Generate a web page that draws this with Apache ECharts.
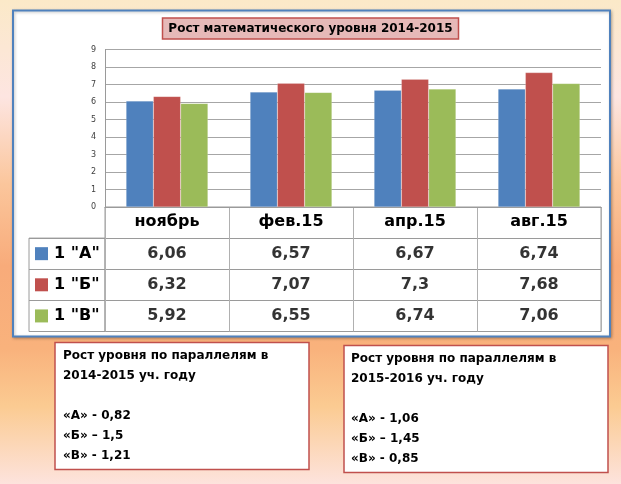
<!DOCTYPE html>
<html><head><meta charset="utf-8">
<script src="https://cdn.jsdelivr.net/npm/echarts@6/dist/echarts.min.js"></script>
<style>html,body{margin:0;padding:0;}#c{width:621px;height:484px;}</style>
</head><body><div id="c"></div>
<script>
const titleText = 'Рост математического уровня 2014-2015';
const categories = ['ноябрь', 'фев.15', 'апр.15', 'авг.15'];
const seriesNames = ['1 "А"', '1 "Б"', '1 "В"'];
const valuesA = [6.06, 6.57, 6.67, 6.74];
const valuesB = [6.32, 7.07, 7.3, 7.68];
const valuesV = [5.92, 6.55, 6.74, 7.06];
const yMin = 0, yMax = 9, yStep = 1;
const box1Lines = ['Рост уровня по параллелям в', '2014-2015 уч. году', '', '«А» - 0,82', '«Б» – 1,5', '«В» - 1,21'];
const box2Lines = ['Рост уровня по параллелям в', '2015-2016 уч. году', '', '«А» - 1,06', '«Б» – 1,45', '«В» - 0,85'];

const colors = ['#4f81bd', '#c0504d', '#9bbb59'];
const allValues = [valuesA, valuesB, valuesV];
const FONT = 'DejaVu Sans';

const tableData = [];
allValues.forEach((vals, s) => vals.forEach((v, i) => tableData.push([i, s + 1, v])));

const rich = { t: { fontFamily: FONT, fontWeight: 'bold', fontSize: 16, color: '#000', padding: [0, 0, 0, 6] } };
colors.forEach((c, i) => { rich['s' + i] = { width: 13, height: 13, backgroundColor: c }; });

const chart = echarts.init(document.getElementById('c'), null, { renderer: 'canvas' });
chart.setOption({
  animation: false,
  title: {
    text: titleText, left: 'center', top: 18,
    backgroundColor: '#e6b9b8', borderColor: '#c0504d', borderWidth: 1.5,
    padding: [5, 6, 4, 6],
    textStyle: { fontFamily: FONT, fontWeight: 'bold', fontSize: 12, color: '#000' }
  },
  graphic: [
    { type: 'rect', z: -20, shape: { x: 0, y: 0, width: 621, height: 484 },
      style: { fill: new echarts.graphic.LinearGradient(0, 0, 0, 1, [
        { offset: 0, color: '#fbe9c8' }, { offset: 0.2, color: '#fde5e1' },
        { offset: 0.38, color: '#fbc69c' }, { offset: 0.55, color: '#f8ab7a' },
        { offset: 0.72, color: '#f9b27c' }, { offset: 0.84, color: '#fbcb92' },
        { offset: 1, color: '#fde3dd' }]) } },
    { type: 'rect', z: -10, shape: { x: 13, y: 10.5, width: 597, height: 326 },
      style: { fill: '#fff', stroke: '#4f81bd', lineWidth: 2, shadowBlur: 3, shadowColor: 'rgba(0,0,0,0.25)', shadowOffsetX: 1, shadowOffsetY: 1 } },
    { type: 'rect', shape: { x: 55, y: 342.5, width: 254, height: 127 },
      style: { fill: '#fff', stroke: '#c0504d', lineWidth: 1.5 } },
    { type: 'text', x: 63, y: 346, style: { text: box1Lines.join('\n'), fontFamily: FONT, fontWeight: 'bold', fontSize: 12, lineHeight: 20, fill: '#000', verticalAlign: 'top' } },
    { type: 'rect', shape: { x: 344, y: 345.5, width: 264, height: 127 },
      style: { fill: '#fff', stroke: '#c0504d', lineWidth: 1.5 } },
    { type: 'text', x: 351, y: 349, style: { text: box2Lines.join('\n'), fontFamily: FONT, fontWeight: 'bold', fontSize: 12, lineHeight: 20, fill: '#000', verticalAlign: 'top' } }
  ],
  grid: [
    { left: 105, top: 49.5, width: 496, height: 157.5 },
    { left: 105, top: 207, width: 496, height: 124.5, show: true, borderColor: '#9a9a9a', borderWidth: 1, backgroundColor: 'transparent' },
    { left: 29, top: 238.1, width: 76, height: 93.4, show: true, borderColor: '#9a9a9a', borderWidth: 1, backgroundColor: 'transparent' }
  ],
  xAxis: [
    { gridIndex: 0, type: 'category', data: categories,
      axisLine: { lineStyle: { color: '#9a9a9a' } }, axisTick: { show: false },
      axisLabel: { margin: 7, fontFamily: FONT, fontWeight: 'bold', fontSize: 16, color: '#000', interval: 0 } },
    { gridIndex: 1, type: 'category', data: categories, axisLine: { show: false }, axisTick: { show: false }, axisLabel: { show: false },
      splitLine: { show: true, interval: 0, lineStyle: { color: '#b0b0b0' } } },
    { gridIndex: 2, type: 'value', min: 0, max: 1, show: false }
  ],
  yAxis: [
    { gridIndex: 0, type: 'value', min: yMin, max: yMax, interval: yStep,
      axisLine: { show: true, lineStyle: { color: '#9a9a9a' } }, axisTick: { show: false },
      splitLine: { lineStyle: { color: '#a6a6a6' } },
      axisLabel: { margin: 9, fontFamily: FONT, fontSize: 8, color: '#404040' } },
    { gridIndex: 1, type: 'category', inverse: true, data: ['', ...seriesNames],
      axisLine: { show: false }, axisTick: { show: false }, axisLabel: { show: false },
      splitLine: { show: true, interval: 0, lineStyle: { color: '#9a9a9a' } } },
    { gridIndex: 2, type: 'category', inverse: true, data: seriesNames,
      axisLine: { show: false }, axisTick: { show: false },
      splitLine: { show: true, interval: 0, lineStyle: { color: '#9a9a9a' } },
      axisLabel: { inside: true, margin: 6, formatter: (v, i) => '{s' + i + '|}{t|' + v + '}', rich: rich } }
  ],
  series: [
    ...seriesNames.map((n, s) => ({
      type: 'bar', name: n, xAxisIndex: 0, yAxisIndex: 0, data: allValues[s],
      barWidth: 27.3, barGap: '0%',
      itemStyle: { color: colors[s], borderColor: 'rgba(255,255,255,0.35)', borderWidth: 0.5 }
    })),
    { type: 'scatter', xAxisIndex: 1, yAxisIndex: 1, data: tableData, symbolSize: 1, silent: true,
      itemStyle: { color: 'transparent' },
      label: { show: true, position: 'inside', formatter: p => String(p.value[2]).replace('.', ','),
        fontFamily: FONT, fontWeight: 'bold', fontSize: 16, color: '#000' } }
  ]
});
</script></body></html>
